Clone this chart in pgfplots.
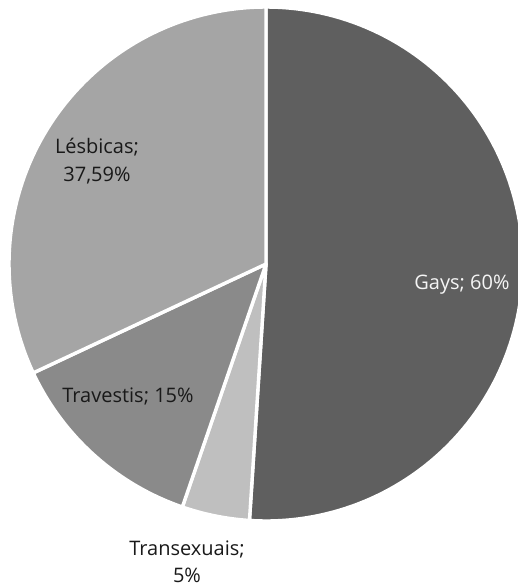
\documentclass[border=0pt]{standalone}
\usepackage{pgfplots}
\pgfplotsset{compat=1.18}
\usepackage{fontspec}
\setmainfont{Open Sans}
\begin{document}
\begin{tikzpicture}
% values (percent labels as given in the chart)
\def\vGays{60}
\def\vTrans{5}
\def\vTrav{15}
\def\vLes{37.59}
\pgfmathsetmacro{\tot}{\vGays+\vTrans+\vTrav+\vLes}
\pgfmathsetmacro{\k}{360/\tot}
\pgfmathsetmacro{\aA}{90}
\pgfmathsetmacro{\aB}{\aA-\k*\vGays}
\pgfmathsetmacro{\aC}{\aB-\k*\vTrans}
\pgfmathsetmacro{\aD}{\aC-\k*\vTrav}
\pgfmathsetmacro{\aE}{\aD-\k*\vLes}
\def\cx{266}\def\cy{323}\def\R{257}
\begin{axis}[
  scale only axis, width=518pt, height=587pt,
  xmin=0, xmax=518, ymin=0, ymax=587,
  axis lines=none, clip=true,
  every axis plot/.append style={draw=white, line width=3.4pt, line join=round},
]
\addplot[fill={rgb,255:red,95;green,95;blue,95}, domain=\aB:\aA, samples=120, variable=\t]
  ({\cx+\R*cos(\t)},{\cy+\R*sin(\t)}) -- (axis cs:\cx,\cy) -- cycle;
\addplot[fill={rgb,255:red,191;green,191;blue,191}, domain=\aC:\aB, samples=20, variable=\t]
  ({\cx+\R*cos(\t)},{\cy+\R*sin(\t)}) -- (axis cs:\cx,\cy) -- cycle;
\addplot[fill={rgb,255:red,138;green,138;blue,138}, domain=\aD:\aC, samples=40, variable=\t]
  ({\cx+\R*cos(\t)},{\cy+\R*sin(\t)}) -- (axis cs:\cx,\cy) -- cycle;
\addplot[fill={rgb,255:red,165;green,165;blue,165}, domain=\aE:\aD, samples=80, variable=\t]
  ({\cx+\R*cos(\t)},{\cy+\R*sin(\t)}) -- (axis cs:\cx,\cy) -- cycle;
\begin{scope}[font=\fontsize{20}{27.5}\selectfont]
\node[text={rgb,255:red,245;green,245;blue,245}] at (axis cs:462,302) {Gays; 60\%};
\node[align=center, text={rgb,255:red,25;green,25;blue,25}] at (axis cs:97,426) {Lésbicas;\\37,59\%};
\node[text={rgb,255:red,25;green,25;blue,25}] at (axis cs:128,191) {Travestis; 15\%};
\node[align=center, text={rgb,255:red,25;green,25;blue,25}] at (axis cs:187,25) {Transexuais;\\5\%};
\end{scope}
\end{axis}
\pgfresetboundingbox
\useasboundingbox (current axis.south west) rectangle (current axis.north east);
\end{tikzpicture}
\end{document}
